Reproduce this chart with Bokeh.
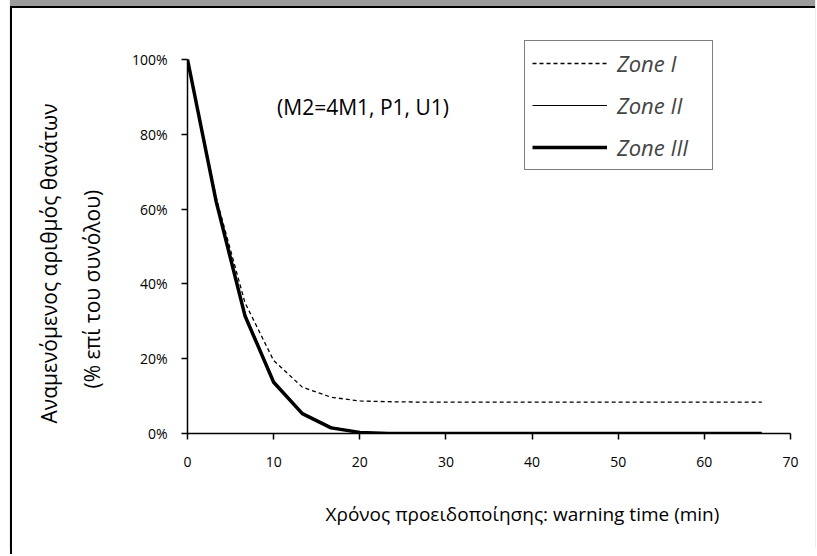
from bokeh.plotting import figure
from bokeh.models import Legend, LegendItem, Label, NumeralTickFormatter, FixedTicker, Range1d, Title
from bokeh.embed import file_html
from bokeh.resources import INLINE

# ---- data ----
warning_time = [0, 3.33, 6.67, 10, 13.33, 16.67, 20, 23.33, 26.67, 30, 33.33,
                36.67, 40, 43.33, 46.67, 50, 53.33, 56.67, 60, 63.33, 66.67]
zone_1 = [1.00, 0.63, 0.35, 0.195, 0.124, 0.097, 0.087, 0.085, 0.084, 0.084, 0.084,
          0.084, 0.084, 0.084, 0.084, 0.084, 0.084, 0.084, 0.084, 0.084, 0.084]
zone_2 = [1.00, 0.62, 0.32, 0.14, 0.055, 0.017, 0.004, 0.001, 0.0, 0.0, 0.0,
          0.0, 0.0, 0.0, 0.0, 0.0, 0.0, 0.0, 0.0, 0.0, 0.0]
zone_3 = [1.00, 0.62, 0.315, 0.137, 0.053, 0.015, 0.003, 0.0, 0.0, 0.0, 0.0,
          0.0, 0.0, 0.0, 0.0, 0.0, 0.0, 0.0, 0.0, 0.0, 0.0]
series_names = ["Zone I", "Zone II", "Zone III"]
x_ticks = [0, 10, 20, 30, 40, 50, 60, 70]
y_ticks = [0, 0.2, 0.4, 0.6, 0.8, 1.0]
x_title = "Χρόνος προειδοποίησης:  warning time (min)"
y_title_1 = "Αναμενόμενος αριθμός θανάτων"
y_title_2 = "(% επί του συνόλου)"
note = "(M2=4M1, P1, U1)"

FONT = "Open Sans"

W, H = 805, 548
p = figure(width=W, height=H, output_backend="svg", toolbar_location=None,
           x_range=Range1d(0, 70), y_range=Range1d(0, 1.0508),
           min_border_left=175, min_border_right=27, min_border_top=32, min_border_bottom=123)
p.margin = (6, 0, 0, 10)
p.styles = {"border-top": "2px solid black", "border-left": "2px solid black",
            "box-shadow": "0px -6px 1px 0px #9c9c9c"}

p.xgrid.visible = False
p.ygrid.visible = False
p.outline_line_color = None
p.background_fill_color = "white"
p.border_fill_color = "white"

r1 = p.line(warning_time, zone_1, line_color="black", line_width=1.3, line_dash="4 3")
r2 = p.line(warning_time, zone_2, line_color="black", line_width=1.2)
r3 = p.line(warning_time, zone_3, line_color="black", line_width=3.5)

for ax in (p.xaxis[0], p.yaxis[0]):
    ax.axis_line_color = "black"
    ax.axis_line_width = 1.5
    ax.major_tick_line_color = "black"
    ax.major_tick_line_width = 1.5
    ax.major_tick_in = 0
    ax.major_tick_out = 6
    ax.minor_tick_line_color = None
    ax.major_label_text_font = FONT
    ax.major_label_text_font_size = "14px"
    ax.major_label_text_color = "black"

p.yaxis.bounds = (0, 1.0)
p.xaxis.ticker = FixedTicker(ticks=x_ticks)
p.yaxis.ticker = FixedTicker(ticks=y_ticks)
p.yaxis.formatter = NumeralTickFormatter(format="0%")
p.xaxis.major_label_standoff = 17
p.yaxis.major_label_standoff = 14

# axis titles (as offset titles so they sit where the reference puts them)
p.add_layout(Title(text=x_title, align="left", offset=138, standoff=59,
                   text_font=FONT, text_font_size="19px", text_font_style="normal",
                   text_color="black"), "below")
p.add_layout(Title(text=y_title_2, align="left", offset=45, standoff=45,
                   text_font=FONT, text_font_size="21px", text_font_style="normal",
                   text_color="black"), "left")
p.add_layout(Title(text=y_title_1, align="left", offset=10, standoff=-18,
                   text_font=FONT, text_font_size="21px", text_font_style="normal",
                   text_color="black"), "left")

p.add_layout(Label(x=10.4, y=0.874, text=note, text_font=FONT, text_font_size="21px",
                   text_color="black", text_baseline="middle", text_align="left"))

legend = Legend(items=[LegendItem(label=series_names[0], renderers=[r1]),
                       LegendItem(label=series_names[1], renderers=[r2]),
                       LegendItem(label=series_names[2], renderers=[r3])],
                location=(337, 263))
legend.label_text_font = FONT
legend.label_text_font_style = "italic"
legend.label_text_font_size = "22px"
legend.glyph_width = 75
legend.glyph_height = 28
legend.label_height = 28
legend.label_width = 88
legend.spacing = 12
legend.padding = 7
legend.margin = 0
legend.border_line_color = "black"
legend.border_line_width = 1.5
legend.background_fill_alpha = 1
legend.label_standoff = 10
p.add_layout(legend, "center")

open("out.html", "w").write(file_html(p, INLINE))
